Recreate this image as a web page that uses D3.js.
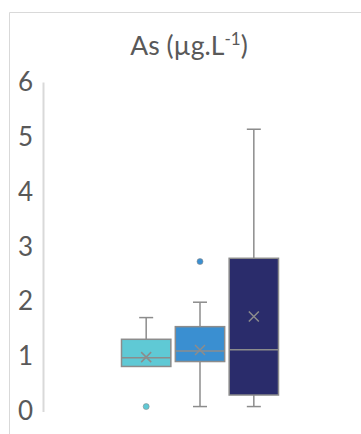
<!DOCTYPE html>
<html>
<head>
<meta charset="utf-8">
<script src="https://cdn.jsdelivr.net/npm/d3@7"></script>
<style>
  html, body { margin: 0; padding: 0; background: #fff; }
  svg { display: block; }
  text { font-family: Lato, "Liberation Sans", sans-serif; fill: #595959; }
</style>
</head>
<body>
<svg id="chart" width="361" height="434"></svg>
<script>
// Arsenic concentrations, one box per group (µg/L)
const groups = ["G1", "G2", "G3"];
const colors = ["#5fc9d5", "#3a8fd1", "#2a2c6b"];
const whiskerLow = [0.82, 0.09, 0.09];
const q1 = [0.82, 0.91, 0.30];
const median = [0.98, 1.10, 1.125];
const q3 = [1.315, 1.545, 2.79];
const whiskerHigh = [1.71, 1.99, 5.14];
const mean = [0.99, 1.12, 1.73];
const outliers = [[0.09], [2.73], []];
const yTicks = [0, 1, 2, 3, 4, 5, 6];

const svg = d3.select("#chart");
const stroke = "#8c8c8c";

// chart frame
svg.append("path")
  .attr("d", "M9.5,434 V12.5 H361")
  .attr("fill", "none")
  .attr("stroke", "#d9d9d9")
  .attr("stroke-width", 1);

// title
const title = svg.append("text")
  .attr("x", 189)
  .attr("y", 55)
  .attr("text-anchor", "middle")
  .style("font-size", "26.5px");
title.append("tspan").text("As (µg.L");
title.append("tspan").attr("dy", -10).style("font-size", "17px").text("-1");
title.append("tspan").attr("dy", 10).text(")");

const y = d3.scaleLinear().domain([0, 6]).range([411.5, 82]);
const x = d3.scaleBand().domain(groups).range([121.5, 278.5]).paddingInner(0.083).paddingOuter(0);

// value axis
const axis = svg.append("g")
  .attr("transform", "translate(43,0)")
  .call(d3.axisLeft(y).tickValues(yTicks).tickSize(0).tickSizeOuter(0).tickPadding(10).tickFormat(d3.format("d")));
axis.select(".domain").attr("stroke", "#d9d9d9").attr("stroke-width", 2);
axis.selectAll(".tick text")
  .style("font-size", "26px")
  .style("fill", "#595959")
  .attr("font-family", "Lato, sans-serif");

const data = groups.map((g, i) => ({
  g, color: colors[i], lo: whiskerLow[i], q1: q1[i], med: median[i],
  q3: q3[i], hi: whiskerHigh[i], mean: mean[i], out: outliers[i]
}));

const box = svg.append("g").selectAll("g").data(data).join("g");
const bw = x.bandwidth();
const cx = d => x(d.g) + bw / 2;
const cap = 7;

// whiskers
box.append("line")
  .attr("x1", cx).attr("x2", cx)
  .attr("y1", d => y(d.q3)).attr("y2", d => y(d.hi))
  .attr("stroke", stroke).attr("stroke-width", 1.5);
box.append("line")
  .attr("x1", cx).attr("x2", cx)
  .attr("y1", d => y(d.q1)).attr("y2", d => y(d.lo))
  .attr("stroke", stroke).attr("stroke-width", 1.5);
box.append("line")
  .attr("x1", d => cx(d) - cap).attr("x2", d => cx(d) + cap)
  .attr("y1", d => y(d.hi)).attr("y2", d => y(d.hi))
  .attr("stroke", stroke).attr("stroke-width", 1.5);
box.filter(d => d.lo < d.q1).append("line")
  .attr("x1", d => cx(d) - cap).attr("x2", d => cx(d) + cap)
  .attr("y1", d => y(d.lo)).attr("y2", d => y(d.lo))
  .attr("stroke", stroke).attr("stroke-width", 1.5);

// interquartile box
box.append("rect")
  .attr("x", d => x(d.g))
  .attr("width", bw)
  .attr("y", d => y(d.q3))
  .attr("height", d => y(d.q1) - y(d.q3))
  .attr("fill", d => d.color)
  .attr("stroke", stroke).attr("stroke-width", 1.5);

// median
box.append("line")
  .attr("x1", d => x(d.g)).attr("x2", d => x(d.g) + bw)
  .attr("y1", d => y(d.med)).attr("y2", d => y(d.med))
  .attr("stroke", stroke).attr("stroke-width", 1.5);

// mean marker
const m = 5;
box.append("path")
  .attr("d", d => {
    const px = cx(d), py = y(d.mean);
    return `M${px - m},${py - m}L${px + m},${py + m}M${px - m},${py + m}L${px + m},${py - m}`;
  })
  .attr("stroke", stroke).attr("stroke-width", 1.5).attr("fill", "none");

// outliers
box.selectAll("circle")
  .data(d => d.out.map(v => ({ v, d })))
  .join("circle")
  .attr("cx", o => cx(o.d))
  .attr("cy", o => y(o.v))
  .attr("r", 3)
  .attr("fill", o => o.d.color)
  .attr("stroke", stroke).attr("stroke-width", 0.6);
</script>
</body>
</html>
